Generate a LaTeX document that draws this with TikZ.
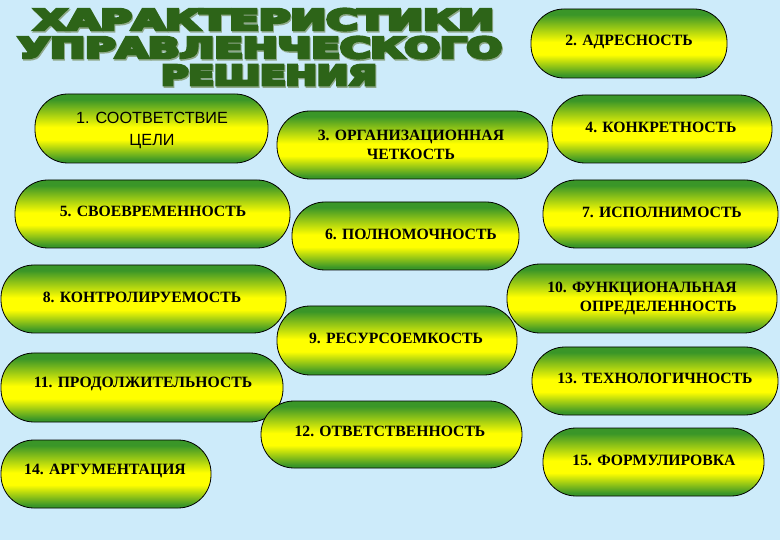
\documentclass[tikz,border=0pt]{standalone}
\usepackage{fontspec}
\setmainfont{Liberation Serif}
\newfontfamily\arialf{Liberation Sans}
\newfontfamily\titlef[BoldFont={DejaVu Sans Bold}, BoldFeatures={FakeBold=10}]{DejaVu Sans}
\definecolor{bg}{HTML}{CDEBFA}
\definecolor{pg}{HTML}{3A9628}
\definecolor{ttl}{HTML}{2D6418}
\definecolor{ttlsh}{HTML}{8FA88A}
\pgfdeclareverticalshading{pillshade}{100bp}{color(0bp)=(pg); color(27bp)=(pg); color(42bp)=(yellow); color(51bp)=(yellow); color(71bp)=(pg); color(100bp)=(pg)}
\tikzset{
  pill/.style={draw=black, line width=0.8pt, shade, shading=pillshade, rectangle, rounded corners=33pt, inner sep=0pt, outer sep=0pt},
  lbl/.style={font=\bfseries\fontsize{15.7}{19}\selectfont, text=black, inner sep=0pt, align=center},
  lbls/.style={font=\arialf\fontsize{16.2}{22}\selectfont, text=black, inner sep=0pt, align=center},
  ttlt/.style={text=ttl, inner sep=0pt},
  ttls/.style={text=ttlsh, inner sep=0pt}
}
\newcommand\mkpill[5]{\node[pill, minimum width={#4-#2}, minimum height={#5-#3}] (#1) at ({(#2+#4)/2},{(#3+#5)/2}) {};}
\begin{document}
\begin{tikzpicture}[x=1pt,y=-1pt]
\useasboundingbox (0,0) rectangle (780,540);
\fill[bg] (0,0) rectangle (780,540);
% title
\node[ttls] (s1) at (265,21) {\resizebox{460pt}{21pt}{\titlef\bfseries ХАРАКТЕРИСТИКИ}};
\node[ttls] (s2) at (261,49) {\resizebox{484pt}{21pt}{\titlef\bfseries УПРАВЛЕНЧЕСКОГО}};
\node[ttls] (s3) at (270,76.5) {\resizebox{216pt}{20pt}{\titlef\bfseries РЕШЕНИЯ}};
\node[ttlt] (h1) at (264,19.5) {\resizebox{460pt}{21pt}{\titlef\bfseries ХАРАКТЕРИСТИКИ}};
\node[ttlt] (h2) at (260,47.5) {\resizebox{484pt}{21pt}{\titlef\bfseries УПРАВЛЕНЧЕСКОГО}};
\node[ttlt] (h3) at (269,75) {\resizebox{216pt}{20pt}{\titlef\bfseries РЕШЕНИЯ}};
% pills
\mkpill{p1}{35}{94}{268}{163}
\mkpill{p2}{531}{9}{727}{78}
\mkpill{p3}{277}{111}{548}{179}
\mkpill{p4}{552}{95}{772}{163}
\mkpill{p5}{15}{180}{290}{248}
\mkpill{p6}{292}{202}{519}{270}
\mkpill{p7}{543}{180}{778}{248}
\mkpill{p8}{1}{265}{286}{333}
\mkpill{p9}{277}{306}{517}{375}
\mkpill{p10}{507}{264}{777}{333}
\mkpill{p11}{1}{353}{283}{422}
\mkpill{p12}{261}{401}{522}{468}
\mkpill{p13}{532}{347}{778}{415}
\mkpill{p14}{1}{440}{211}{508}
\mkpill{p15}{543}{428}{764}{496}
% labels
\node[lbls] (t1) at (152,130) {1. СООТВЕТСТВИЕ\\ЦЕЛИ};
\node[lbl] (t2) at (629,42) {2. АДРЕСНОСТЬ};
\node[lbl] (t3) at (411,145) {3. ОРГАНИЗАЦИОННАЯ\\ЧЕТКОСТЬ};
\node[lbl] (t4) at (661,127) {4. КОНКРЕТНОСТЬ};
\node[lbl] (t5) at (153,211) {5. СВОЕВРЕМЕННОСТЬ};
\node[lbl] (t6) at (411,234) {6. ПОЛНОМОЧНОСТЬ};
\node[lbl] (t7) at (662,212) {7. ИСПОЛНИМОСТЬ};
\node[lbl] (t8) at (142,297) {8. КОНТРОЛИРУЕМОСТЬ};
\node[lbl] (t9) at (396,338) {9. РЕСУРСОЕМКОСТЬ};
\node[lbl, align=right] (t10) at (642,298) {10. ФУНКЦИОНАЛЬНАЯ\\ОПРЕДЕЛЕННОСТЬ};
\node[lbl] (t11) at (143,384) {11. ПРОДОЛЖИТЕЛЬНОСТЬ};
\node[lbl] (t12) at (390,431) {12. ОТВЕТСТВЕННОСТЬ};
\node[lbl] (t13) at (655,378) {13. ТЕХНОЛОГИЧНОСТЬ};
\node[lbl] (t14) at (105,471) {14. АРГУМЕНТАЦИЯ};
\node[lbl] (t15) at (654,460) {15. ФОРМУЛИРОВКА};
\end{tikzpicture}
\end{document}
